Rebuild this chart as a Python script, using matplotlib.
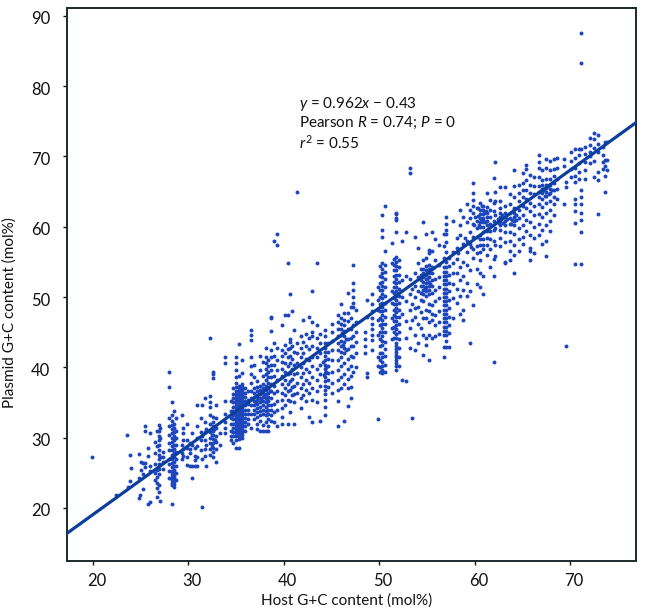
import matplotlib
matplotlib.use("Agg")
import matplotlib.pyplot as plt
from matplotlib.transforms import ScaledTranslation

plt.rcParams["font.family"] = "Lato"
plt.rcParams["mathtext.fontset"] = "custom"
plt.rcParams["mathtext.it"] = "Lato:italic"
plt.rcParams["mathtext.rm"] = "Lato"

# host G+C, then the plasmid G+C values seen at that host value
low_cols = [
    (19.9, [27.3]), (22.4, [21.9]), (23.6, [30.4]), (23.7, [23.0]), (23.9, [27.6, 23.9]),
    (24.0, [25.7]), (24.8, [27.7, 24.2, 21.4]), (24.9, [21.9]), (25.1, [25.4, 26.6]),
    (25.3, [26.4, 22.7, 24.9]), (25.5, [31.7, 31.0, 26.4, 25.8]), (25.8, [20.6, 27.4, 28.6]),
    (26.0, [20.8, 30.7, 26.0, 25.2]), (26.5, [29.4, 27.8, 26.2, 25.0, 24.0]),
    (26.7, [31.0, 28.8, 25.4, 24.4, 23.6, 22.8, 21.6]),
    (26.9, [31.8, 31.0, 30.2, 29.6, 29.0, 28.3, 27.6, 26.9, 26.2, 25.6, 24.8, 23.2, 22.3]),
    (27.0, [31.4, 30.0, 27.2, 21.0]), (27.4, [28.0, 27.3, 26.6, 25.6]),
    (28.0, [39.3, 37.2, 32.8, 31.6, 30.4, 29.2, 28.2, 27.0, 26.2, 25.2, 24.2]),
    (28.3, [35.1, 33.2, 32.4, 31.8, 31.2, 30.6, 30.0, 29.4, 28.8, 28.2, 27.6, 27.0, 26.4, 25.8,
            25.2, 24.8, 24.4, 24.0, 23.6, 23.2, 20.5]),
    (28.5, [33.8, 32.0, 31.4, 30.8, 30.2, 29.6, 29.0, 28.4, 27.8, 27.2, 26.6, 26.0, 25.4, 25.0,
            24.6, 24.2, 23.8, 23.4, 23.0]),
    (28.7, [32.8, 31.0, 30.0, 28.9, 28.0, 27.0, 26.0, 25.0, 24.0]),
    (29.3, [33.2, 29.0, 27.8, 27.0]), (29.5, [31.4, 30.6, 29.7, 28.4, 27.4]),
    (29.9, [32.0, 29.6, 28.6, 27.2, 26.1]), (30.2, [29.2, 28.4, 27.8, 25.9]),
    (30.4, [30.6, 29.0, 24.2, 25.9]), (30.7, [28.6, 27.4, 26.8, 25.9]),
    (30.9, [34.7, 31.6, 30.0, 28.8, 27.2, 25.9]), (31.3, [32.8, 30.8, 29.6, 28.2]),
    (31.4, [34.7, 20.1, 30.2, 27.0]), (31.8, [35.6, 32.2, 30.8, 29.6, 28.4, 27.4]),
    (31.9, [25.9, 31.2, 29.0]),
    (32.3, [44.2, 35.9, 35.0, 34.4, 33.2, 32.0, 30.8, 30.0, 29.2, 28.4, 27.6]),
    (32.6, [39.4, 39.0, 38.5, 33.0, 32.2, 31.6, 31.0, 30.4, 29.8, 29.2, 28.6, 28.0, 27.3]),
    (32.9, [34.6, 32.8, 31.4, 30.2, 29.4, 28.4, 26.6]), (33.3, [30.6, 29.0]),
    (33.9, [41.5, 40.6, 35.2, 33.4, 32.2, 31.4, 30.6]),
]
mid_cols = [
    (34.5, [35.2, 33.8, 32.8, 32.0, 31.0, 30.2, 29.6]),
    (34.7, [37.0, 36.2, 35.6, 35.0, 34.4, 33.8, 33.2, 32.6, 32.0, 31.4, 30.8, 30.2, 29.2]),
    (35.0, [41.5, 40.6, 39.6, 38.6, 37.8, 37.2, 36.6, 36.2, 35.8, 35.4, 35.0, 34.6, 34.2, 33.8,
            33.4, 33.0, 32.6, 32.2, 31.8, 31.4, 31.0, 30.6, 30.2, 29.6, 28.5]),
    (35.3, [43.3, 38.8, 37.4, 37.0, 36.6, 36.2, 35.8, 35.4, 35.0, 34.6, 34.2, 33.8, 33.4, 33.0,
            32.6, 32.2, 31.8, 31.4, 31.0, 30.6, 30.2, 29.8, 28.5]),
    (35.6, [41.0, 39.2, 37.6, 37.2, 36.8, 36.4, 36.0, 35.6, 35.2, 34.8, 34.4, 34.0, 33.6, 33.2,
            32.8, 32.4, 32.0, 31.6, 31.2, 30.8, 30.4, 30.0]),
    (35.9, [37.0, 36.4, 35.8, 35.2, 34.6, 34.0, 33.4, 32.8, 32.2, 31.6, 31.0]),
    (36.3, [36.6, 35.4, 34.8, 34.0, 33.4, 32.6, 32.0]),
    (36.6, [45.3, 44.6, 43.9, 41.4, 40.2, 39.0, 37.8, 36.6, 35.6, 34.6, 33.4, 31.4]),
    (36.9, [40.4, 38.6, 37.0, 36.4, 35.8, 35.2, 34.6, 34.0, 33.4, 32.6]),
    (37.2, [38.0, 37.2, 36.6, 36.0, 35.4, 34.8, 34.2, 33.6, 33.0, 32.0, 31.2]),
    (37.5, [41.6, 39.6, 37.4, 36.8, 36.2, 35.6, 35.0, 34.4, 33.8, 33.2, 32.4, 30.9]),
    (37.8, [40.8, 38.8, 37.6, 37.0, 36.4, 35.8, 35.2, 34.6, 34.0, 33.4, 31.8, 30.9]),
    (38.1, [42.8, 41.4, 40.6, 39.8, 39.0, 38.2, 37.4, 36.8, 36.2, 35.6, 35.0, 34.4, 33.8, 33.2, 32.2, 30.9]),
    (38.4, [41.0, 40.2, 39.4, 38.6, 37.8, 37.0, 36.4, 35.8, 35.2, 34.6, 34.0, 33.4, 32.6, 31.6, 30.9]),
    (38.7, [47.2, 47.0, 45.1, 42.4, 41.4, 40.4, 39.6, 38.6, 37.6, 36.6, 35.6, 34.6, 34.0, 33.2, 32.4]),
    (39.0, [58.0, 43.4, 41.6, 40.4, 38.8, 37.4, 36.4, 34.8, 33.6, 32.2]),
    (39.3, [59.0, 57.4, 42.8, 41.0, 39.6, 38.2, 36.6, 35.2, 34.0, 31.6]),
    (39.8, [46.0, 42.4, 41.6, 40.8, 39.8, 38.8, 37.6, 36.4, 35.4, 34.2, 33.0, 31.9]),
    (40.1, [47.5, 43.2, 42.0, 40.6, 39.4, 38.2, 37.0, 36.0, 34.6]),
    (40.4, [47.5, 54.8, 42.6, 41.4, 40.2, 39.0, 37.6, 36.6, 35.4, 32.0]),
    (40.7, [50.5, 44.0, 43.6, 42.8, 41.6, 40.6, 39.2, 38.0, 36.8, 35.2, 33.6]),
    (40.9, [48.0, 43.0, 41.2, 39.8, 38.4, 37.2, 36.0]),
    (41.1, [45.3, 42.2, 40.4, 39.0, 37.4, 36.2, 35.0, 32.0]),
    (41.4, [65.0, 43.4, 42.0, 40.6, 39.2, 37.8, 36.4]),
    (41.8, [44.4, 42.8, 41.4, 40.0, 38.6, 37.0, 35.6, 34.2]),
    (42.0, [46.8, 43.6, 42.0, 40.6, 39.2, 37.6, 36.0]),
    (42.3, [44.8, 43.0, 41.2, 39.8, 38.2, 36.8, 35.2]),
    (42.6, [47.2, 44.2, 42.6, 41.0, 39.4, 37.8, 36.4, 33.0]),
    (43.0, [50.8, 46.4, 45.0, 44.4, 43.0, 41.4, 40.2, 38.6, 37.0, 35.4, 32.2]),
    (43.5, [54.8, 46.0, 44.2, 42.8, 41.4, 39.8, 38.2, 36.6, 35.0]),
    (43.8, [44.8, 43.4, 42.0, 40.4, 39.0, 37.4, 32.3]),
    (44.3, [45.3, 44.4, 43.4, 42.8, 42.2, 41.6, 41.0, 40.4, 39.8, 39.2, 38.6, 38.0, 37.4, 36.8,
            36.2, 35.4, 34.4, 33.2]),
    (44.6, [43.4, 42.2, 41.2, 40.2, 39.2, 38.2, 37.2]),
    (45.1, [46.2, 45.0, 43.8, 42.4, 41.0, 39.4, 37.8, 36.4]),
    (45.7, [47.5, 46.4, 45.4, 44.4, 43.4, 42.4, 41.0, 39.6, 38.2, 36.8, 35.2, 31.7]),
    (46.0, [49.0, 47.0, 46.2, 45.4, 44.6, 43.8, 43.0, 42.2, 41.4, 40.2, 38.6, 37.0]),
    (46.3, [47.7, 46.8, 46.0, 45.2, 44.4, 43.6, 42.8, 42.0, 40.6, 39.0, 37.6, 32.3]),
    (46.7, [50.6, 47.7, 46.6, 45.4, 44.0, 42.6, 41.2, 39.8, 38.4, 37.0, 34.5]),
    (47.0, [48.6, 47.0, 45.4, 44.2, 43.0, 41.6, 40.2, 38.8, 37.2, 35.6]),
    (47.3, [54.6, 52.0, 51.0, 50.0, 49.2, 48.6, 46.0, 44.4, 43.0, 41.4, 39.4]),
    (47.6, [48.2, 46.4, 45.0, 43.6, 42.0, 40.0]),
    (48.5, [45.0, 44.0, 43.0, 42.0]), (48.7, [49.6, 47.2, 39.2, 38.6]),
    (49.2, [50.5, 49.0, 48.0, 47.0, 46.2, 45.4, 44.6, 43.9, 42.4]),
    (49.9, [51.4, 49.6, 48.2, 46.8, 32.6, 44.6, 41.4, 40.2]),
]
high_cols = [
    (50.1, [54.4, 53.0, 52.0, 51.0, 50.0, 49.0, 48.0, 47.0, 46.0, 45.0, 44.0, 43.0, 42.0, 41.0, 40.0, 39.4]),
    (50.3, [54.8, 54.0, 53.4, 52.8, 52.2, 51.6, 51.0, 50.4, 49.8, 49.2, 48.6, 48.0, 47.4, 46.8,
            46.2, 45.6, 45.0, 44.4, 43.8, 43.2, 42.0, 41.4, 40.8, 40.2, 39.6, 39.2, 59.5, 58.6, 61.6]),
    (50.6, [62.9, 56.6, 54.6, 53.6, 52.6, 51.4, 50.2, 49.2, 48.2, 47.2, 46.2, 45.0, 43.6, 42.6, 41.6, 40.4, 39.4]),
    (51.3, [57.7, 54.8, 50.8, 49.2, 47.0, 45.6, 44.0]),
    (51.6, [55.4, 54.6, 53.8, 53.0, 52.2, 51.4, 50.6, 49.8, 49.0, 48.2, 47.4, 46.6, 45.8, 45.0, 44.2]),
    (51.8, [62.0, 61.8, 61.2, 61.0, 59.3, 55.7, 55.0, 54.4, 53.8, 53.2, 52.6, 52.0, 51.4, 50.8,
            50.2, 49.6, 49.0, 48.4, 47.8, 47.2, 46.6, 46.0, 45.4, 44.8, 44.2, 43.4, 43.0, 42.6,
            42.2, 41.8, 41.4, 41.0, 40.6, 40.2, 39.6]),
    (52.1, [55.2, 54.2, 53.2, 52.2, 51.2, 50.2, 49.2, 48.2, 47.2, 46.2, 45.0, 44.0, 42.8, 41.4, 40.2]),
    (52.4, [58.0, 52.4, 50.0, 47.6, 38.2]), (52.8, [59.3, 53.0, 49.4, 46.6, 44.2, 38.1]),
    (53.2, [68.3, 67.7, 52.6, 50.4, 48.2, 45.6, 42.8]), (53.4, [51.2, 49.0, 46.8, 32.8]),
    (53.8, [58.6, 53.4, 51.6, 50.0, 48.4, 47.2, 44.6, 42.4]), (54.1, [57.0, 54.8, 52.8, 50.8, 48.6, 46.2, 43.4]),
    (54.4, [54.0, 53.2, 52.4, 51.6, 50.6, 49.6, 47.8, 45.6]),
    (54.6, [60.7, 55.2, 54.0, 53.4, 52.8, 52.2, 51.6, 51.0, 50.4, 49.4, 47.0, 44.6, 41.8]),
    (54.9, [59.0, 55.6, 54.4, 53.8, 53.2, 52.6, 52.0, 51.4, 50.8, 50.2, 48.2, 47.0, 44.2, 43.2]),
    (55.2, [56.7, 56.2, 54.6, 54.0, 53.4, 52.8, 52.2, 51.6, 51.0, 50.4, 49.0, 48.0, 46.4, 44.6, 41.0]),
    (55.5, [59.3, 56.6, 54.2, 53.4, 52.4, 51.6, 50.6, 48.8, 47.6, 46.8, 44.2]),
    (55.8, [58.2, 55.2, 52.6, 51.0, 49.4, 47.4, 46.0, 44.4]),
    (56.3, [57.4, 54.6, 52.8, 51.4, 49.8, 48.0, 46.4, 44.8]),
    (56.8, [59.0, 57.2, 55.6, 54.3, 53.6, 53.0, 52.4, 51.8, 51.2, 50.6, 50.0, 49.4, 48.8, 48.2,
            47.6, 47.0, 46.4, 45.8, 45.2, 44.6, 42.9, 41.5]),
    (57.0, [61.4, 60.4, 59.6, 59.0, 57.8, 56.4, 55.0, 54.2, 53.6, 53.0, 52.4, 51.8, 51.2, 50.6,
            50.0, 49.4, 48.8, 48.2, 47.6, 47.0, 46.4, 45.8, 45.2, 44.6, 43.8, 42.9]),
    (57.3, [55.6, 54.4, 53.2, 52.0, 50.8, 49.6, 48.4, 47.2, 46.0, 44.9, 42.9]),
    (57.7, [60.8, 56.4, 54.8, 53.4, 51.8, 49.8, 47.0]), (58.1, [58.4, 57.0, 55.4, 53.4, 51.2, 49.2]),
    (58.5, [62.4, 60.2, 58.8, 56.8, 54.2, 52.4, 50.2, 47.6]), (58.8, [61.4, 57.6, 55.0, 53.0, 51.0, 48.2, 46.8]),
    (59.2, [63.2, 60.6, 58.0, 56.4, 54.6, 52.0, 50.2]), (59.5, [62.4, 61.2, 59.2, 57.6, 53.8, 50.8, 43.5]),
    (59.8, [66.2, 64.8, 63.8, 63.0, 62.0, 60.4, 58.6, 56.8, 55.6, 48.8]),
    (60.2, [62.6, 60.8, 59.8, 58.6, 57.2, 56.2, 54.0, 51.8]),
    (60.6, [63.4, 62.4, 61.8, 61.2, 60.6, 60.0, 58.8, 58.2, 57.4, 56.4, 55.2, 53.4, 51.4]),
    (60.9, [63.0, 62.4, 61.8, 61.2, 60.6, 60.0, 59.2, 58.2, 57.4, 56.8, 53.0, 50.4]),
    (61.3, [64.8, 62.8, 62.0, 61.4, 60.8, 60.2, 59.4, 58.4, 57.4, 56.0]),
    (61.6, [63.8, 62.4, 61.4, 60.4, 59.4, 58.2, 56.8, 54.2]), (62.0, [66.9, 63.4, 62.2, 60.8, 59.6, 58.0, 55.4, 53.0, 40.7]),
    (62.1, [69.2, 65.0, 63.6, 61.6, 59.8, 57.4, 55.8]),
    (62.7, [65.7, 63.6, 62.6, 62.0, 61.4, 60.8, 60.2, 59.6, 58.4, 57.2]),
    (63.2, [65.7, 63.0, 62.0, 61.4, 60.8, 60.2, 59.2, 57.8, 55.0, 54.8]),
    (63.7, [64.6, 63.2, 62.0, 61.2, 60.4, 59.2, 58.0, 56.6, 55.2]),
    (64.1, [68.0, 65.8, 64.2, 62.6, 62.0, 61.4, 60.8, 60.2, 59.0, 57.4, 56.0, 53.4]),
    (64.6, [66.0, 64.8, 63.6, 62.4, 61.2, 59.8, 58.2, 56.6]),
    (65.1, [67.6, 66.2, 65.2, 64.2, 63.0, 61.6, 60.2, 58.6, 57.6]),
    (65.4, [68.8, 68.2, 66.6, 65.2, 64.0, 62.6, 61.0, 59.4]),
    (65.8, [67.4, 66.0, 64.8, 63.4, 62.2, 60.6, 58.8, 57.0, 55.3, 56.6]),
    (66.2, [67.0, 65.8, 64.6, 63.0, 61.6, 60.0, 58.4, 56.2]),
    (66.7, [70.2, 69.2, 68.4, 67.0, 65.8, 65.0, 64.2, 63.2, 61.8, 60.4, 58.8]),
    (67.1, [68.0, 66.6, 66.0, 65.4, 64.8, 64.0, 62.8, 61.4, 59.6, 57.6]),
    (67.5, [69.6, 68.4, 66.8, 66.0, 65.5, 65.0, 64.4, 63.4, 62.0, 60.2, 58.0, 55.8]),
    (67.9, [69.4, 68.0, 66.8, 66.0, 65.4, 64.8, 63.6, 62.4, 60.8, 59.4]),
    (68.3, [69.6, 68.2, 67.2, 66.2, 65.2, 64.2, 63.2, 61.6]),
    (68.6, [69.8, 68.4, 66.8, 65.4, 64.0]), (69.4, [69.6, 68.6, 63.2]), (69.6, [43.1, 66.4, 65.6]),
    (70.1, [70.6, 69.4, 68.2, 67.0]),
    (70.5, [71.0, 69.8, 68.4, 67.2, 66.4, 64.0, 63.2, 62.2, 60.5, 54.7]),
    (70.9, [71.0, 70.2, 69.0, 67.8, 66.8]), (71.1, [87.5, 83.3, 71.0, 65.2, 64.2, 63.2, 62.0, 61.0, 59.2, 54.7]),
    (71.6, [71.4, 70.4, 69.2, 68.0, 66.8]), (72.1, [72.6, 71.6, 70.6, 70.0, 69.0]),
    (72.5, [73.3, 72.4, 71.2, 69.4, 67.0]), (72.9, [73.0, 71.8, 70.6, 67.8, 66.6, 61.8]),
    (73.4, [71.4, 70.2, 69.2, 68.2]), (73.7, [72.1, 69.5, 68.6, 67.2, 65.0]), (73.9, [72.1, 69.5, 68.0]),
]
# tight clumps that sit off the columns above
clump_x = [60.4, 60.75, 61.15, 60.5, 60.85, 61.0, 60.35, 60.7, 61.1, 62.45, 62.9, 63.35, 62.5, 63.0,
           63.9, 64.3, 63.85, 64.35, 64.05, 67.25, 67.7, 68.05, 67.35, 67.8, 54.65, 55.05, 55.35,
           54.75, 55.1, 37.95, 38.25, 38.55, 37.65, 37.35, 37.05, 32.45, 32.75, 32.45, 32.7,
           44.15, 44.45, 44.2, 44.45, 46.15, 46.5, 46.2, 46.55, 58.3, 59.0, 59.6, 59.95, 60.05]
clump_y = [61.5, 62.9, 62.3, 60.3, 60.9, 61.9, 62.6, 61.1, 60.6, 61.1, 61.7, 61.1, 60.5, 60.5,
           61.0, 61.7, 60.4, 60.9, 62.3, 65.2, 65.8, 65.2, 64.4, 64.6, 53.1, 52.5, 51.9,
           51.1, 53.7, 36.1, 35.5, 36.7, 35.3, 35.7, 34.9, 30.4, 29.6, 28.8, 31.2,
           40.7, 40.1, 38.9, 39.3, 44.9, 44.1, 43.2, 42.5, 56.2, 58.4, 57.1, 60.2, 61.4]

line_x = [17.3, 76.9]
line_y = [16.4, 74.8]
x_ticks = [20, 30, 40, 50, 60, 70]
y_ticks = [20, 30, 40, 50, 60, 70, 80, 90]

fig = plt.figure(figsize=(6.45, 6.12), dpi=100)
ax = fig.add_axes([67 / 645, 1 - 561 / 612, (636 - 67) / 645, (561 - 8) / 612])

for cols in [low_cols, mid_cols, high_cols]:
    for host, plasmids in cols:
        ax.scatter([host] * len(plasmids), plasmids, s=8, color="#1d46bd", linewidths=0, zorder=2)
ax.scatter(clump_x, clump_y, s=8, color="#1d46bd", linewidths=0, zorder=2)

ax.plot(line_x, line_y, color="#0c3f9c", lw=2.3, zorder=3)

ax.set_xlim(17.3, 76.9)
ax.set_ylim(12.46, 91.1)
ax.set_xticks(x_ticks)
ax.set_yticks(y_ticks)
ax.tick_params(labelsize=12, length=3, width=1, colors="#111111")
ax.tick_params(axis="x", pad=6)
ax.tick_params(axis="y", pad=9)
# labels in the reference sit a little off their ticks
for lbl in ax.get_xticklabels():
    lbl.set_transform(lbl.get_transform() + ScaledTranslation(4 / 100, 0, fig.dpi_scale_trans))
for lbl in ax.get_yticklabels():
    lbl.set_transform(lbl.get_transform() + ScaledTranslation(0, -2 / 100, fig.dpi_scale_trans))
for s in ax.spines.values():
    s.set_linewidth(1.4)
    s.set_color("#1c2a2c")

fig.text(347 / 645, 1 - 601 / 612, "Host G+C content (mol%)", fontsize=11, ha="center", va="center", color="#111111")
fig.text(10 / 645, 1 - 313 / 612, "Plasmid G+C content (mol%)", fontsize=11, rotation=90, ha="center", va="center", color="#111111")

txt = [r"$\mathit{y}$ = 0.962$\mathit{x}$ $-$ 0.43",
       r"Pearson $\mathit{R}$ = 0.74; $\mathit{P}$ = 0",
       r"$\mathit{r}^2$ = 0.55"]
for t, py in zip(txt, [104, 123, 143]):
    fig.text(299 / 645, 1 - py / 612, t, fontsize=11, va="center", ha="left", color="#111111")

fig.savefig("out.png", dpi=100)
